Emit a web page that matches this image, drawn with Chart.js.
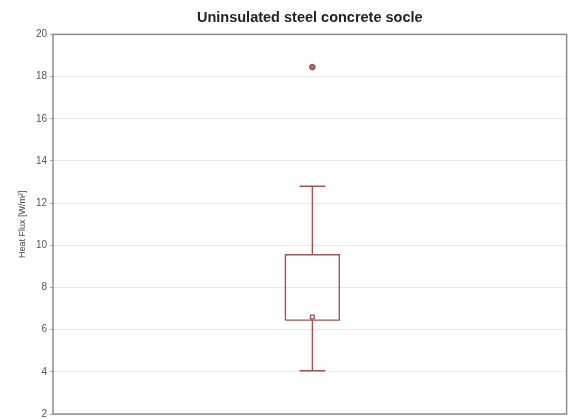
<!DOCTYPE html>
<html>
<head>
<meta charset="utf-8">
<script src="https://cdn.jsdelivr.net/npm/chart.js@4"></script>
<style>
  html, body { margin: 0; padding: 0; background: #fff; overflow: hidden; }
  #chartContainer { width: 572px; height: 423px; }
</style>
</head>
<body>
<div id="chartContainer"><canvas id="chart"></canvas></div>
<script>
// box plot summary
const groups = ['Uninsulated steel concrete socle']
const whiskerLow = [4.05]
const q1 = [6.45]
const median = [6.6]
const q3 = [9.55]
const whiskerHigh = [12.8]
const outliers = [[18.45]]
const yTicks = [2, 4, 6, 8, 10, 12, 14, 16, 18, 20]

const boxColor = '#a05454'
const center = 1.01
const boxHalf = 0.105
const capHalf = 0.05

// everything is a line dataset on a linear x axis, one group at x = 1
const datasets = []
groups.forEach((g, i) => {
    const x = center + i
    datasets.push({
        label: 'box',
        data: [
            { x: x - boxHalf, y: q1[i] }, { x: x - boxHalf, y: q3[i] },
            { x: x + boxHalf, y: q3[i] }, { x: x + boxHalf, y: q1[i] },
            { x: x - boxHalf, y: q1[i] }
        ],
        showLine: true, borderColor: boxColor, borderWidth: 1.4, pointRadius: 0, fill: false
    })
    datasets.push({
        label: 'upper whisker',
        data: [{ x: x, y: q3[i] }, { x: x, y: whiskerHigh[i] }],
        showLine: true, borderColor: boxColor, borderWidth: 1.4, pointRadius: 0
    })
    datasets.push({
        label: 'lower whisker',
        data: [{ x: x, y: q1[i] }, { x: x, y: whiskerLow[i] }],
        showLine: true, borderColor: boxColor, borderWidth: 1.4, pointRadius: 0
    })
    datasets.push({
        label: 'upper cap',
        data: [{ x: x - capHalf, y: whiskerHigh[i] }, { x: x + capHalf, y: whiskerHigh[i] }],
        showLine: true, borderColor: boxColor, borderWidth: 1.4, pointRadius: 0
    })
    datasets.push({
        label: 'lower cap',
        data: [{ x: x - capHalf, y: whiskerLow[i] }, { x: x + capHalf, y: whiskerLow[i] }],
        showLine: true, borderColor: boxColor, borderWidth: 1.4, pointRadius: 0
    })
    datasets.push({
        label: 'median',
        data: [{ x: x, y: median[i] }],
        showLine: false, pointStyle: 'rect', pointRadius: 2.6,
        pointBackgroundColor: '#ffffff', pointBorderColor: boxColor, pointBorderWidth: 1.4
    })
    datasets.push({
        label: 'outliers',
        data: outliers[i].map(v => ({ x: x, y: v })),
        showLine: false, pointStyle: 'circle', pointRadius: 2.8,
        pointBackgroundColor: '#b86a6a', pointBorderColor: '#8a3e3e', pointBorderWidth: 1
    })
})

// grey frame around the plot area
const framePlugin = {
    id: 'frame',
    afterDraw(chart) {
        const a = chart.chartArea
        const ctx = chart.ctx
        ctx.save()
        ctx.strokeStyle = '#8c8c8c'
        ctx.lineWidth = 1.5
        ctx.strokeRect(a.left, a.top, a.right - a.left, a.bottom - a.top)
        ctx.restore()
    }
}

const ctx = document.getElementById('chart').getContext('2d')
new Chart(ctx, {
    type: 'scatter',
    data: { datasets: datasets },
    options: {
        responsive: true,
        maintainAspectRatio: false,
        animation: false,
        layout: { padding: { left: 0, right: 2, top: 0, bottom: 0 } },
        plugins: {
            legend: { display: false },
            tooltip: { enabled: false },
            title: {
                display: true,
                text: groups[0],
                fullSize: false,
                color: '#222',
                font: { family: 'Liberation Sans, Arial, sans-serif', size: 14.5, weight: 'bold' },
                padding: { top: 9, bottom: 8 }
            }
        },
        scales: {
            x: {
                type: 'linear',
                min: 0,
                max: 2,
                display: false
            },
            y: {
                min: 2,
                max: 20,
                afterBuildTicks: scale => { scale.ticks = yTicks.map(v => ({ value: v })) },
                afterFit: scale => { scale.width = 53 },
                ticks: {
                    color: '#555',
                    padding: 3,
                    font: { family: 'Liberation Sans, Arial, sans-serif', size: 10 }
                },
                grid: { color: '#e8e8e8', tickLength: 3, tickColor: '#aaa' },
                border: { display: false },
                title: {
                    display: true,
                    text: 'Heat Flux [W/m²]',
                    color: '#444',
                    padding: { top: 17, bottom: 6 },
                    font: { family: 'Liberation Sans, Arial, sans-serif', size: 9 }
                }
            }
        }
    },
    plugins: [framePlugin]
})
</script>
</body>
</html>
